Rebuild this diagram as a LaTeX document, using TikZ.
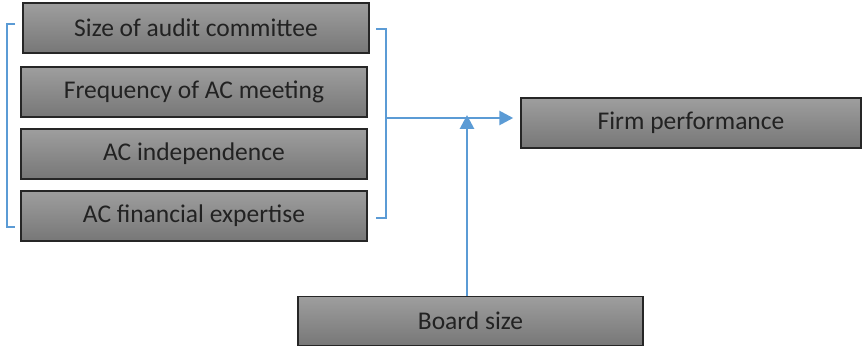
\documentclass[tikz,border=0pt]{standalone}
\usepackage{fontspec}
\setmainfont{Carlito}
\usepackage{xcolor}
\usetikzlibrary{arrows.meta}
\definecolor{linkblue}{HTML}{5B9BD5}
\definecolor{boxtop}{HTML}{9E9E9E}
\definecolor{boxbot}{HTML}{777777}
\definecolor{boxtext}{HTML}{222222}

\begin{document}
\begin{tikzpicture}[x=1pt, y=-1pt]
\tikzset{varbox/.style={draw=black!85, line width=1.5pt, top color=boxtop, bottom color=boxbot,
  minimum width=346pt, minimum height=50pt, inner sep=0pt, text=boxtext, font=\fontsize{25.5}{30}\selectfont}}
\tikzset{link/.style={draw=linkblue, line width=2.8pt, -{Triangle[length=14pt,width=14pt]}}}
\tikzset{brace/.style={draw=linkblue, line width=1.3pt}}
\useasboundingbox (0,0) rectangle (862,347);
% audit committee characteristics
\node[varbox] (size) at (196, 28) {Size of audit committee};
\node[varbox] (freq) at (194, 92) {Frequency of AC meeting};
\node[varbox] (indep) at (194, 154) {AC independence};
\node[varbox] (exper) at (194, 216) {AC financial expertise};
% outcome and moderator
\node[varbox, minimum width=340pt] (firm) at (691, 123) {Firm performance};
\node[varbox, minimum width=345pt, minimum height=49pt] (board) at (470.5, 321) {Board size};
% brackets
\draw[brace] (15, 24) -- (7, 24) -- (7, 227) -- (15, 227);
\draw[brace] (376, 29) -- (386, 29) -- (386, 218) -- (376, 218);
% arrows
\coordinate (join) at (386, 118);
\coordinate (hit) at (467, 118);
\draw[link] (join) -- ([xshift=-7pt]join -| firm.west);
\draw[link] (board.north -| hit) -- ([yshift=3pt]hit);
\end{tikzpicture}
\end{document}
